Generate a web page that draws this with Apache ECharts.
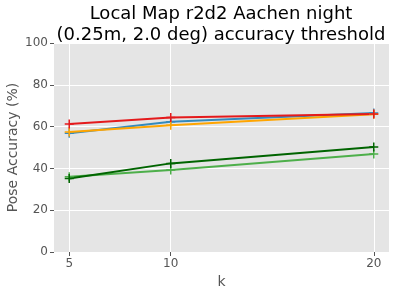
<!DOCTYPE html>
<html><head><meta charset="utf-8">
<script src="https://cdn.jsdelivr.net/npm/echarts@6/dist/echarts.min.js"></script>
<style>html,body{margin:0;padding:0;background:#fff}#c{width:400px;height:288px}</style>
</head><body><div id="c"></div>
<script>
const kValues = [5, 10, 20];
const yTicks = [0, 20, 40, 60, 80, 100];
const blueVals = [56.8, 62.3, 66.5];
const orangeVals = [57.4, 60.6, 65.9];
const redVals = [61.2, 64.3, 66.0];
const lightGreenVals = [36.0, 39.2, 46.9];
const darkGreenVals = [35.2, 42.4, 50.2];

const seriesDefs = [
  {vals: blueVals, color: '#348ABD'},
  {vals: orangeVals, color: '#FFA500'},
  {vals: redVals, color: '#E41A1C'},
  {vals: lightGreenVals, color: '#4DAF4A'},
  {vals: darkGreenVals, color: '#006400'}
];

const chart = echarts.init(document.getElementById('c'));
const font = 'DejaVu Sans';
chart.setOption({
  animation: false,
  backgroundColor: '#fff',
  title: {
    text: 'Local Map r2d2 Aachen night\n(0.25m, 2.0 deg) accuracy threshold',
    left: 216, top: -1, textAlign: 'center',
    textStyle: {fontFamily: font, fontSize: 18, fontWeight: 'normal', color: '#000', lineHeight: 21}
  },
  grid: {left: 54, right: 11, top: 43, bottom: 36, show: true, backgroundColor: '#E5E5E5', borderWidth: 0,
         containLabel: false, outerBoundsMode: 'none'},
  xAxis: {
    type: 'value', min: 4.25, max: 20.75,
    name: 'k', nameLocation: 'middle', nameGap: 23, nameMoveOverlap: false,
    nameTextStyle: {fontFamily: font, fontSize: 14, color: '#555'},
    axisLine: {show: false},
    axisTick: {show: true, length: 4, lineStyle: {color: '#555'}, customValues: kValues},
    axisLabel: {fontFamily: font, fontSize: 12, color: '#555', margin: 6, customValues: kValues},
    splitLine: {show: true, lineStyle: {color: '#fff', width: 1}}
  },
  yAxis: {
    type: 'value', min: 0, max: 100, interval: 20,
    name: 'Pose Accuracy (%)', nameLocation: 'middle', nameGap: 34, nameMoveOverlap: false,
    nameTextStyle: {fontFamily: font, fontSize: 14, color: '#555'},
    axisLine: {show: false},
    axisTick: {show: true, length: 4, lineStyle: {color: '#555'}},
    axisLabel: {fontFamily: font, fontSize: 12, color: '#555', margin: 6},
    splitLine: {show: true, lineStyle: {color: '#fff', width: 1}}
  },
  series: seriesDefs.map(s => ({
    type: 'line',
    data: kValues.map((k, i) => [k, s.vals[i]]),
    color: s.color,
    lineStyle: {color: s.color, width: 2},
    symbol: 'path://M0,5L10,5M5,0L5,10',
    symbolSize: 9,
    itemStyle: {color: 'none', borderColor: s.color, borderWidth: 1.5},
    emphasis: {disabled: true}
  }))
});
</script></body></html>
